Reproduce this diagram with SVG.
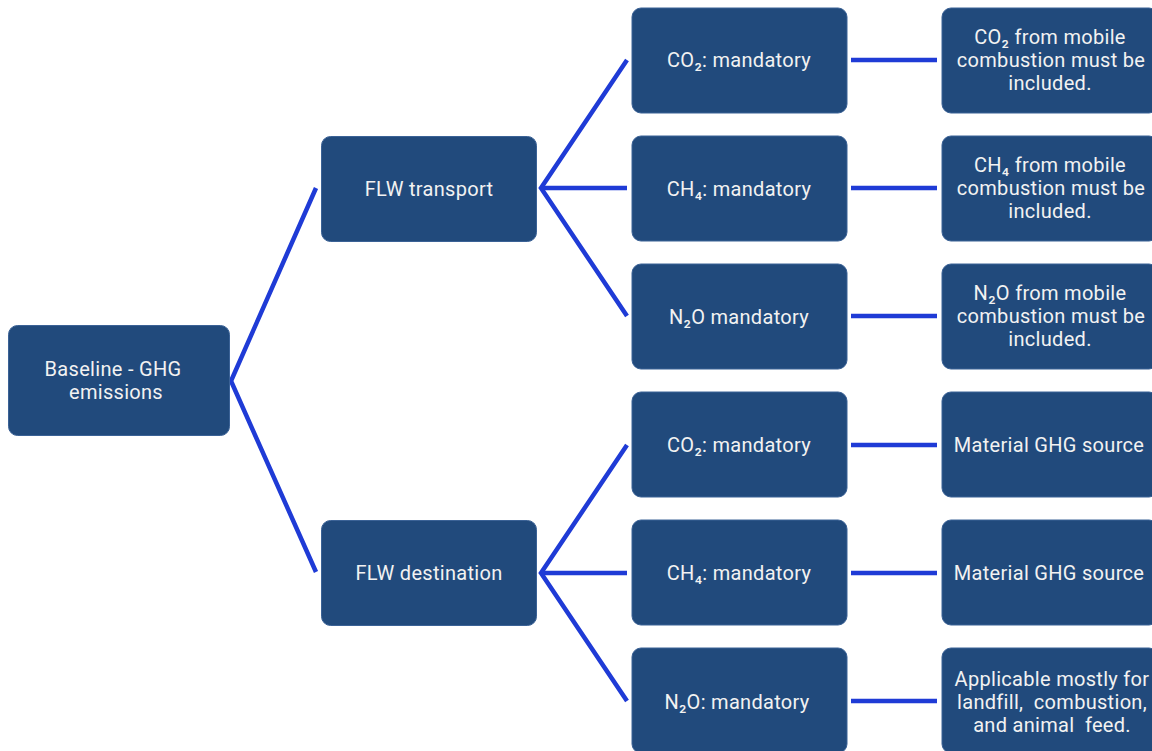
<svg xmlns="http://www.w3.org/2000/svg" width="1152" height="751" viewBox="0 0 1152 751">
<defs>
<style>
.n{fill:#214A7C;stroke:#3B6296;stroke-width:1}
.t{font-family:Roboto,"Liberation Sans",sans-serif;font-size:20px;letter-spacing:0.3px;fill:#F2F2F2;text-anchor:middle;white-space:pre}
.c{stroke:#1F3BD6;stroke-width:4.5;fill:none}
</style>
</defs>
<rect width="1152" height="751" fill="#FFFFFF"/>
<g id="connectors">
<polyline class="c" points="316,188 231,381 316,572"/>
<polyline class="c" points="627,60 541,188 627,316"/>
<line class="c" x1="541" y1="188" x2="627" y2="188"/>
<polyline class="c" points="627,445 541,573 627,701"/>
<line class="c" x1="541" y1="573" x2="627" y2="573"/>
<line class="c" x1="851" y1="60" x2="937" y2="60"/>
<line class="c" x1="851" y1="188" x2="937" y2="188"/>
<line class="c" x1="851" y1="316" x2="937" y2="316"/>
<line class="c" x1="851" y1="445" x2="937" y2="445"/>
<line class="c" x1="851" y1="573" x2="937" y2="573"/>
<line class="c" x1="851" y1="701" x2="937" y2="701"/>
</g>
<g id="root"><rect class="n" x="8.5" y="325.5" width="221" height="110" rx="9"/><text class="t" x="113" y="376">Baseline - GHG</text><text class="t" x="116" y="399">emissions</text></g>
<g id="flw-transport"><rect class="n" x="321.5" y="136.5" width="215" height="105" rx="9"/><text class="t" x="429" y="196">FLW transport</text></g>
<g id="flw-destination"><rect class="n" x="321.5" y="520.5" width="215" height="105" rx="9"/><text class="t" x="429" y="580">FLW destination</text></g>
<g id="t-co2"><rect class="n" x="632" y="8" width="215" height="105" rx="9"/><text class="t" x="739" y="67">CO₂: mandatory</text></g>
<g id="t-ch4"><rect class="n" x="632" y="136" width="215" height="105" rx="9"/><text class="t" x="739" y="196">CH₄: mandatory</text></g>
<g id="t-n2o"><rect class="n" x="632" y="264" width="215" height="105" rx="9"/><text class="t" x="739" y="324">N₂O mandatory</text></g>
<g id="d-co2"><rect class="n" x="632" y="392" width="215" height="105" rx="9"/><text class="t" x="739" y="452">CO₂: mandatory</text></g>
<g id="d-ch4"><rect class="n" x="632" y="520" width="215" height="105" rx="9"/><text class="t" x="739" y="580">CH₄: mandatory</text></g>
<g id="d-n2o"><rect class="n" x="632" y="648" width="215" height="105" rx="9"/><text class="t" x="737" y="709">N₂O: mandatory</text></g>
<g id="t-co2-note"><rect class="n" x="942" y="8" width="216" height="105" rx="9"/><text class="t" x="1050" y="44">CO₂ from mobile</text><text class="t" x="1051" y="67">combustion must be</text><text class="t" x="1050" y="90">included.</text></g>
<g id="t-ch4-note"><rect class="n" x="942" y="136" width="216" height="105" rx="9"/><text class="t" x="1050" y="172">CH₄ from mobile</text><text class="t" x="1051" y="195">combustion must be</text><text class="t" x="1050" y="218">included.</text></g>
<g id="t-n2o-note"><rect class="n" x="942" y="264" width="216" height="105" rx="9"/><text class="t" x="1050" y="300">N₂O from mobile</text><text class="t" x="1051" y="323">combustion must be</text><text class="t" x="1050" y="346">included.</text></g>
<g id="d-co2-note"><rect class="n" x="942" y="392" width="216" height="105" rx="9"/><text class="t" x="1049" y="452">Material GHG source</text></g>
<g id="d-ch4-note"><rect class="n" x="942" y="520" width="216" height="105" rx="9"/><text class="t" x="1049" y="580">Material GHG source</text></g>
<g id="d-n2o-note"><rect class="n" x="942" y="648" width="216" height="105" rx="9"/><text class="t" x="1052" y="686">Applicable mostly for</text><text class="t" x="1052" y="709">landfill,  combustion,</text><text class="t" x="1052" y="732">and animal  feed.</text></g>
</svg>
